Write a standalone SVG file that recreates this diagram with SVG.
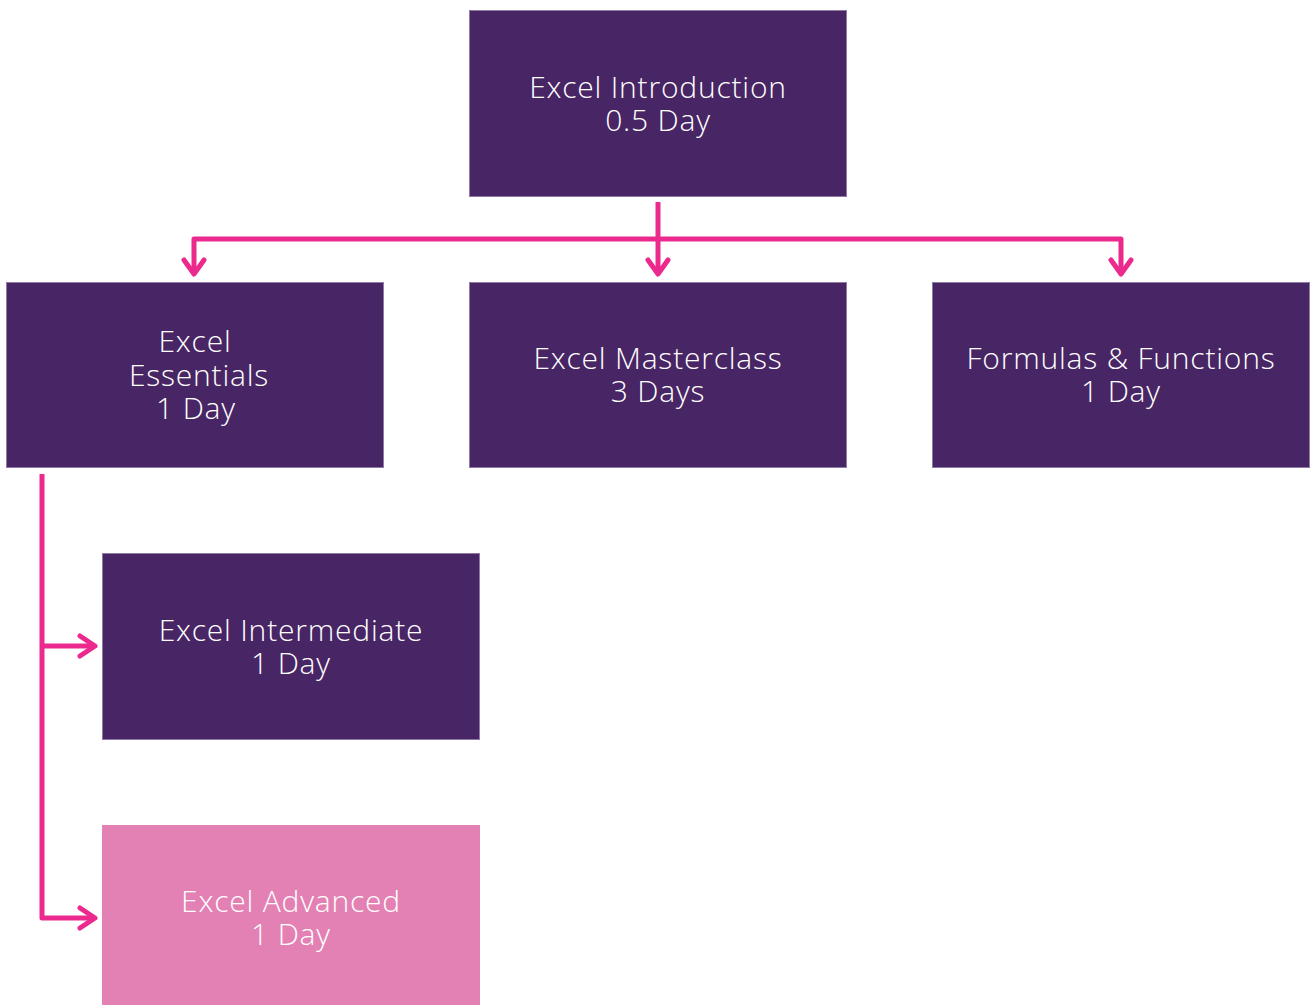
<svg xmlns="http://www.w3.org/2000/svg" width="1311" height="1005" viewBox="0 0 1311 1005">
<defs>
<style>
.box{fill:#482564;stroke:#8f7aa6;stroke-width:1}
.adv{fill:#e381b4;stroke:none}
.lbl{font-family:"Open Sans","Noto Sans",sans-serif;font-weight:300;font-size:30px;letter-spacing:0.8px;fill:#ffffff;text-anchor:middle}
.con{fill:none;stroke:#ec2a8e;stroke-width:5;stroke-linejoin:round}
.head{fill:none;stroke:#ec2a8e;stroke-width:5;stroke-linecap:round;stroke-linejoin:round}
</style>
</defs>
<rect width="1311" height="1005" fill="#ffffff"/>
<g id="connectors">
<path class="con" d="M658,202 V272"/>
<path class="con" d="M194,272 V239 H1121 V272"/>
<path class="head" d="M184,260 L194,274 L204,260"/>
<path class="head" d="M648,260 L658,274 L668,260"/>
<path class="head" d="M1111,260 L1121,274 L1131,260"/>
<path class="con" d="M42,474 V918 H94"/>
<path class="con" d="M42,646 H94"/>
<path class="head" d="M80,636 L95,646 L80,656"/>
<path class="head" d="M80,908 L95,918 L80,928"/>
</g>
<g id="node-intro">
<rect class="box" x="469.5" y="10.5" width="377" height="186"/>
<text class="lbl" x="658" y="98">Excel Introduction</text>
<text class="lbl" x="658" y="131">0.5 Day</text>
</g>
<g id="node-essentials">
<rect class="box" x="6.5" y="282.5" width="377" height="185"/>
<text class="lbl" x="195" y="352">Excel</text>
<text class="lbl" x="199" y="386">Essentials</text>
<text class="lbl" x="196" y="419">1 Day</text>
</g>
<g id="node-masterclass">
<rect class="box" x="469.5" y="282.5" width="377" height="185"/>
<text class="lbl" x="658" y="369">Excel Masterclass</text>
<text class="lbl" x="658" y="402">3 Days</text>
</g>
<g id="node-formulas">
<rect class="box" x="932.5" y="282.5" width="377" height="185"/>
<text class="lbl" x="1121" y="369">Formulas &amp; Functions</text>
<text class="lbl" x="1121" y="402">1 Day</text>
</g>
<g id="node-intermediate">
<rect class="box" x="102.5" y="553.5" width="377" height="186"/>
<text class="lbl" x="291" y="641">Excel Intermediate</text>
<text class="lbl" x="291" y="674">1 Day</text>
</g>
<g id="node-advanced">
<rect class="adv" x="102" y="825" width="378" height="185"/>
<text class="lbl" x="291" y="912">Excel Advanced</text>
<text class="lbl" x="291" y="945">1 Day</text>
</g>
</svg>
